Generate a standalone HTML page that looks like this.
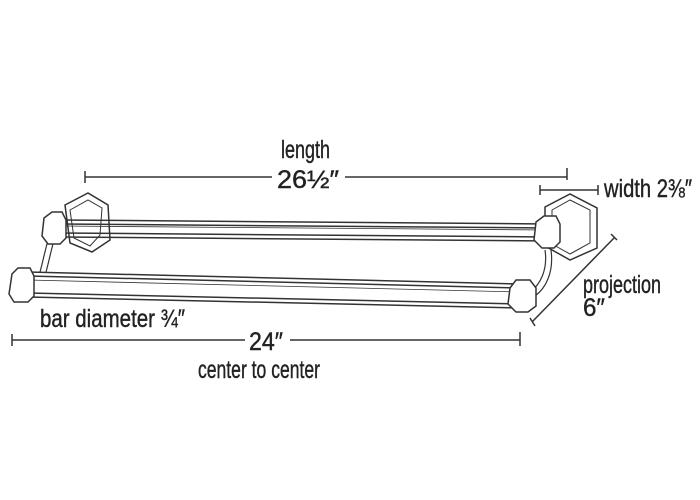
<!DOCTYPE html>
<html><head><meta charset="utf-8"><style>
html,body{margin:0;padding:0;background:#fff;width:700px;height:500px;overflow:hidden}
text{font-family:"Liberation Sans",sans-serif;fill:#222;stroke:#222;stroke-width:0.4}
</style></head><body>
<svg width="700" height="500" viewBox="0 0 700 500" xmlns="http://www.w3.org/2000/svg">
<g stroke="#333" fill="none" stroke-width="1.5">
<path d="M85 177H272 M345 177H567 M85 171v12 M567 168v12"/>
<path d="M540 190H598 M540 185v10 M598 185v10"/>
<path d="M12 340H245 M290 340H520 M12 334v12 M520 332v14"/>
<path d="M532 322L615 237 M530 318l5 8 M611 234l6 6"/>
<path d="M65 205L88 193L108 205L110 240L92 252L70 243Z"/>
<path d="M70 210L88 200L102 208L100 235L90 246L74 238Z" stroke-width="1"/>
<path d="M545 207L570 194L597 208L597 248L570 260L545 246Z"/>
<path d="M552 210L570 200L590 210L590 243L570 254L552 244Z" stroke-width="1"/>
<path d="M48 240C44 255 42 265 40 272 M54 240C50 255 48 265 46 272" stroke-width="1.2"/>
<path d="M545 250C548 270 540 285 530 292 M551 250C554 272 546 288 535 296" stroke-width="1.2"/>
<path d="M60 220L548 224 M60 237L548 241 M60 224L548 228 M60 233L548 237" />
<path d="M60 226L548 230" stroke-width="0.8"/>
<path d="M44 218L52 212H62L66 220V238L60 244H48L42 236Z" fill="#fff"/>
<path d="M536 222L544 216H556L560 224V242L554 248H542L534 240Z" fill="#fff"/>
<path d="M28 272L520 284 M28 297L520 308 M28 276L520 288 M28 293L520 304"/>
<path d="M28 280L520 292" stroke-width="0.8"/>
<path d="M12 274L18 268H30L34 276V296L28 302H14L9 294Z" fill="#fff"/>
<path d="M510 288L516 280H530L536 288V306L528 312H516L508 304Z" fill="#fff"/>
</g>
<g font-size="25">
<text x="281" y="158" textLength="49" lengthAdjust="spacingAndGlyphs">length</text>
<text x="277" y="188" textLength="62" lengthAdjust="spacingAndGlyphs">26½″</text>
<text x="604" y="197" textLength="88" lengthAdjust="spacingAndGlyphs">width 2⅜″</text>
<text x="583" y="293" textLength="78" lengthAdjust="spacingAndGlyphs">projection</text>
<text x="583" y="316" textLength="22" lengthAdjust="spacingAndGlyphs">6″</text>
<text x="40" y="327" textLength="145" lengthAdjust="spacingAndGlyphs">bar diameter ¾″</text>
<text x="249" y="350" textLength="34" lengthAdjust="spacingAndGlyphs">24″</text>
<text x="198" y="378" textLength="122" lengthAdjust="spacingAndGlyphs">center to center</text>
</g>
</svg>
</body></html>
